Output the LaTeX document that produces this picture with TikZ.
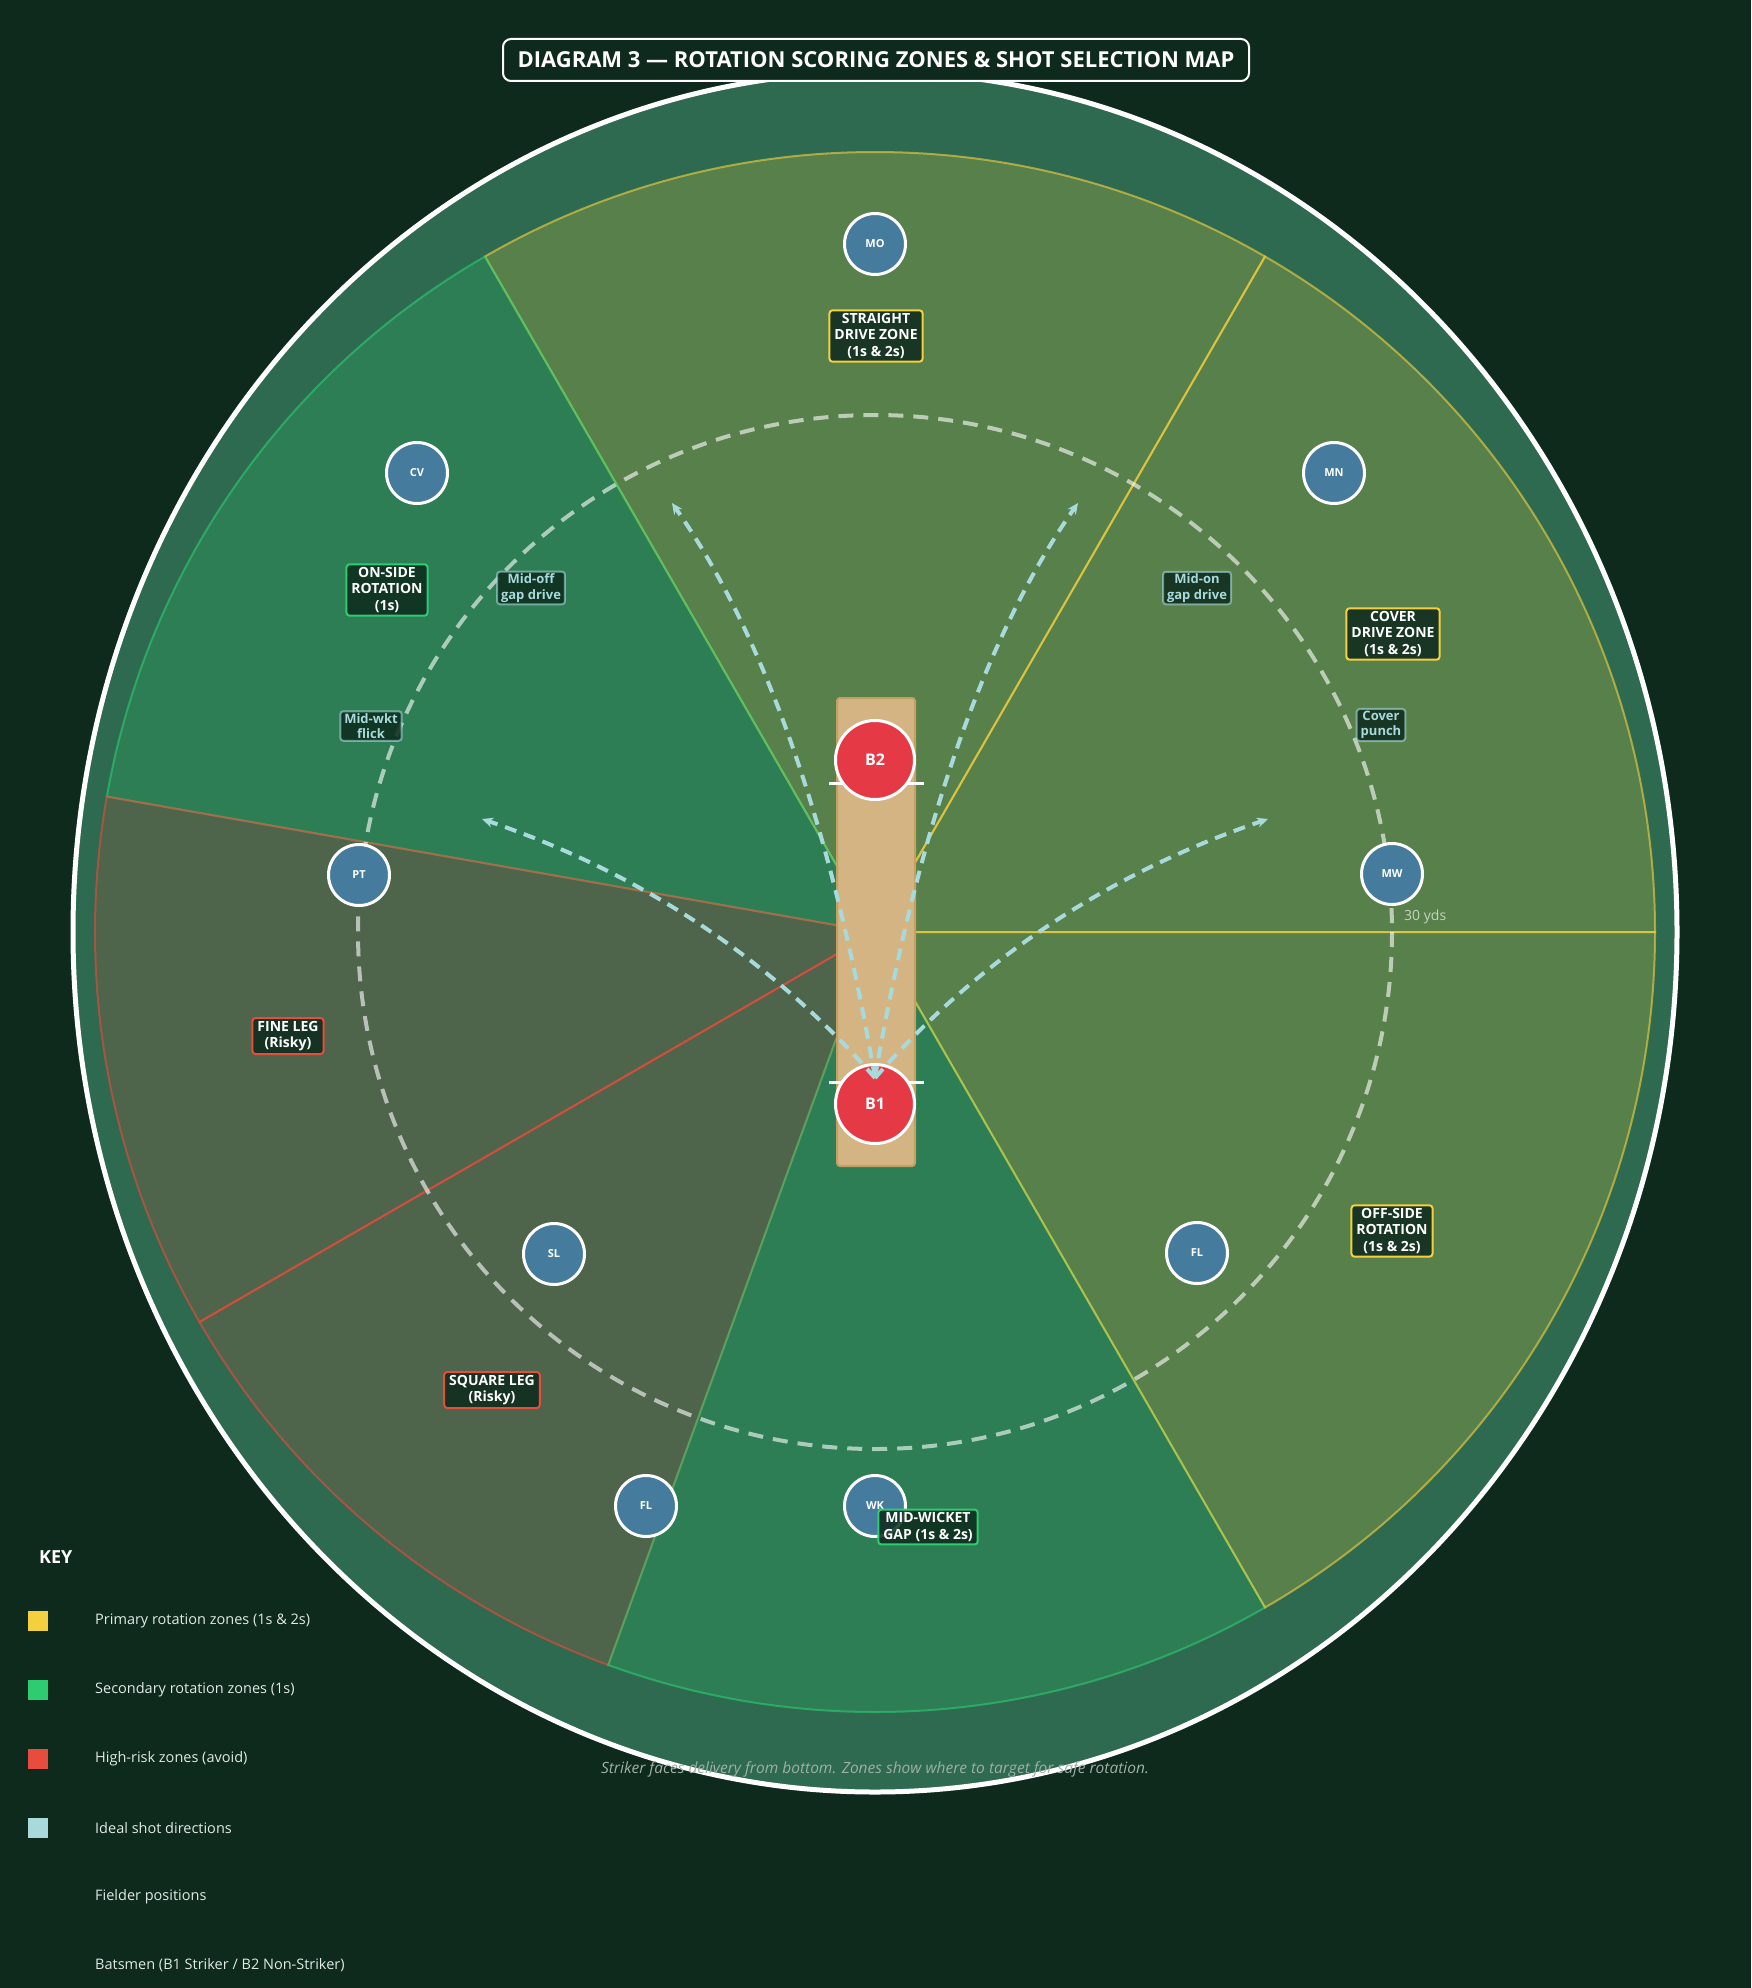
\documentclass[tikz,border=0pt]{standalone}
\usepackage{fontspec}
\setmainfont{Open Sans}
\usetikzlibrary{arrows.meta}
\definecolor{bg}{HTML}{0D2A1C}
\definecolor{field}{HTML}{2D6A4F}
\definecolor{zy}{HTML}{F4D03F}
\definecolor{zg}{HTML}{2ECC71}
\definecolor{zr}{HTML}{E74C3C}
\definecolor{shot}{HTML}{A8DADC}
\definecolor{fld}{HTML}{457B9D}
\definecolor{bat}{HTML}{E63946}
\definecolor{pitchc}{HTML}{D4B483}
\definecolor{pitchb}{HTML}{C4A063}
\definecolor{capc}{HTML}{9FAFA6}
\definecolor{keytext}{HTML}{E2E9E4}
\begin{document}
\begin{tikzpicture}[x=1pt,y=-1pt,
  zone/.style 2 args={fill=#1, fill opacity=#2, draw=#1, draw opacity=0.6, line width=2pt},
  fielder/.style={circle, fill=fld, draw=white, line width=3pt, minimum size=61pt, inner sep=0pt, text=white, font=\fontsize{11}{13}\selectfont\bfseries},
  batter/.style={circle, fill=bat, draw=white, line width=3pt, minimum size=79pt, inner sep=0pt, text=white, font=\fontsize{16}{19}\selectfont\bfseries},
  zonelabel/.style={draw=#1, line width=2pt, fill=bg, fill opacity=0.85, text opacity=1, rounded corners=3pt, text=white, align=center, font=\fontsize{14}{16.5}\selectfont\bfseries, inner xsep=5pt, inner ysep=3pt},
  shotlabel/.style={draw=shot, draw opacity=0.6, line width=2pt, fill=bg, fill opacity=0.85, text opacity=1, rounded corners=3pt, text=shot, align=center, font=\fontsize{13}{15.5}\selectfont\bfseries, inner xsep=4pt, inner ysep=2pt},
  shotarrow/.style={draw=shot, line width=4pt, dash pattern=on 12pt off 8pt, -{Stealth[length=11pt,width=10pt]}},
  keysq/.style={minimum size=20pt, inner sep=0pt, fill=#1},
  keytxt/.style={anchor=west, inner sep=0pt, text=keytext, font=\fontsize{14.5}{17}\selectfont},
]
\newcommand\zonewedge[4]{\path[zone={#1}{#4}] (C) -- ++(-#2:780) arc[start angle=-#2, end angle=-#3, radius=780] -- cycle;}
% background
\fill[bg] (0,0) rectangle (1751,1988);
\useasboundingbox (0,0) rectangle (1751,1988);
\coordinate (C) at (875,932);
% field
\draw[fill=field, draw=white, line width=5pt] (C) ellipse[x radius=802, y radius=860];
% zones
\zonewedge{zy}{60}{120}{0.22}
\zonewedge{zg}{120}{170}{0.2}
\zonewedge{zr}{170}{210}{0.18}
\zonewedge{zr}{210}{250}{0.18}
\zonewedge{zg}{250}{300}{0.2}
\zonewedge{zy}{300}{360}{0.22}
\zonewedge{zy}{0}{60}{0.22}
% 30-yard circle
\draw[white, draw opacity=0.6, line width=4pt, dash pattern=on 15pt off 10pt] (C) circle[radius=517];
\node[anchor=west, inner sep=0pt, font=\fontsize{14}{16}\selectfont, text=white, text opacity=0.65] (yds) at (1404,917) {30 yds};
% pitch
\draw[fill=pitchc, draw=pitchb, line width=2pt, rounded corners=3pt] (837,698) rectangle (915,1166);
\coordinate (cr2a) at (829,783); \coordinate (cr2b) at (924,783);
\coordinate (cr1a) at (829,1082); \coordinate (cr1b) at (924,1082);
\draw[white, line width=3pt] (cr2a) -- (cr2b);
\draw[white, line width=3pt] (cr1a) -- (cr1b);
% fielders
\node[fielder] (MO) at (875,244) {MO};
\node[fielder] (CV) at (417,473) {CV};
\node[fielder] (MN) at (1334,473) {MN};
\node[fielder] (PT) at (359,875) {PT};
\node[fielder] (MW) at (1392,874) {MW};
\node[fielder] (SL) at (554,1254) {SL};
\node[fielder] (FLr) at (1197,1253) {FL};
\node[fielder] (FLl) at (646,1506) {FL};
\node[fielder] (WK) at (875,1506) {WK};
% batsmen
\node[batter] (B2) at (875,760) {B2};
\node[batter] (B1) at (875,1104) {B1};
% shot arrows
\coordinate (S) at (875,1078);
\coordinate (T1) at (672,503);
\coordinate (T2) at (1078,503);
\coordinate (T3) at (482,819);
\coordinate (T4) at (1268,819);
\draw[shotarrow] (S) .. controls (831.7,826) and (764,634.3) .. (T1);
\draw[shotarrow] (S) .. controls (918.3,826) and (986,634.3) .. (T2);
\draw[shotarrow] (S) .. controls (771.7,959.3) and (640.7,873) .. (T3);
\draw[shotarrow] (S) .. controls (978.3,959.3) and (1109.3,873) .. (T4);
% zone labels
\node[zonelabel=zy] (lstraight) at (876,336) {STRAIGHT\\DRIVE ZONE\\(1s \& 2s)};
\node[zonelabel=zg] (lonside) at (387,590) {ON-SIDE\\ROTATION\\(1s)};
\node[zonelabel=zy] (lcover) at (1393,634) {COVER\\DRIVE ZONE\\(1s \& 2s)};
\node[zonelabel=zr] (lfine) at (288,1036) {FINE LEG\\(Risky)};
\node[zonelabel=zr] (lsquare) at (492,1390) {SQUARE LEG\\(Risky)};
\node[zonelabel=zg] (lmid) at (928,1527) {MID-WICKET\\GAP (1s \& 2s)};
\node[zonelabel=zy] (loff) at (1392,1231) {OFF-SIDE\\ROTATION\\(1s \& 2s)};
% shot labels
\node[shotlabel] (smidoff) at (531,588) {Mid-off\\gap drive};
\node[shotlabel] (smidwkt) at (371,726) {Mid-wkt\\flick};
\node[shotlabel] (smidon) at (1197,588) {Mid-on\\gap drive};
\node[shotlabel] (scover) at (1381,725) {Cover\\punch};
% caption
\node[font=\fontsize{15.5}{18}\selectfont\itshape, text=capc] (cap) at (875,1769) {Striker faces delivery from bottom. Zones show where to target for safe rotation.};
% title
\node[draw=white, line width=2pt, fill=bg, rounded corners=8pt, minimum width=746pt, minimum height=42pt, text=white, font=\fontsize{22}{26}\selectfont\bfseries] (title) at (876,60) {DIAGRAM 3 — ROTATION SCORING ZONES \& SHOT SELECTION MAP};
% key
\node[anchor=west, inner sep=0pt, text=white, font=\fontsize{18}{20}\selectfont\bfseries] (key) at (39,1557) {KEY};
\node[keysq=zy] (k1) at (38,1621) {};
\node[keysq=zg] (k2) at (38,1690) {};
\node[keysq=zr] (k3) at (38,1759) {};
\node[keysq=shot] (k4) at (38,1828) {};
\node[keytxt] (t1) at (95,1621) {Primary rotation zones (1s \& 2s)};
\node[keytxt] (t2) at (95,1690) {Secondary rotation zones (1s)};
\node[keytxt] (t3) at (95,1759) {High-risk zones (avoid)};
\node[keytxt] (t4) at (95,1828) {Ideal shot directions};
\node[keytxt] (t5) at (95,1897) {Fielder positions};
\node[keytxt] (t6) at (95,1965) {Batsmen (B1 Striker / B2 Non-Striker)};
\end{tikzpicture}
\end{document}
